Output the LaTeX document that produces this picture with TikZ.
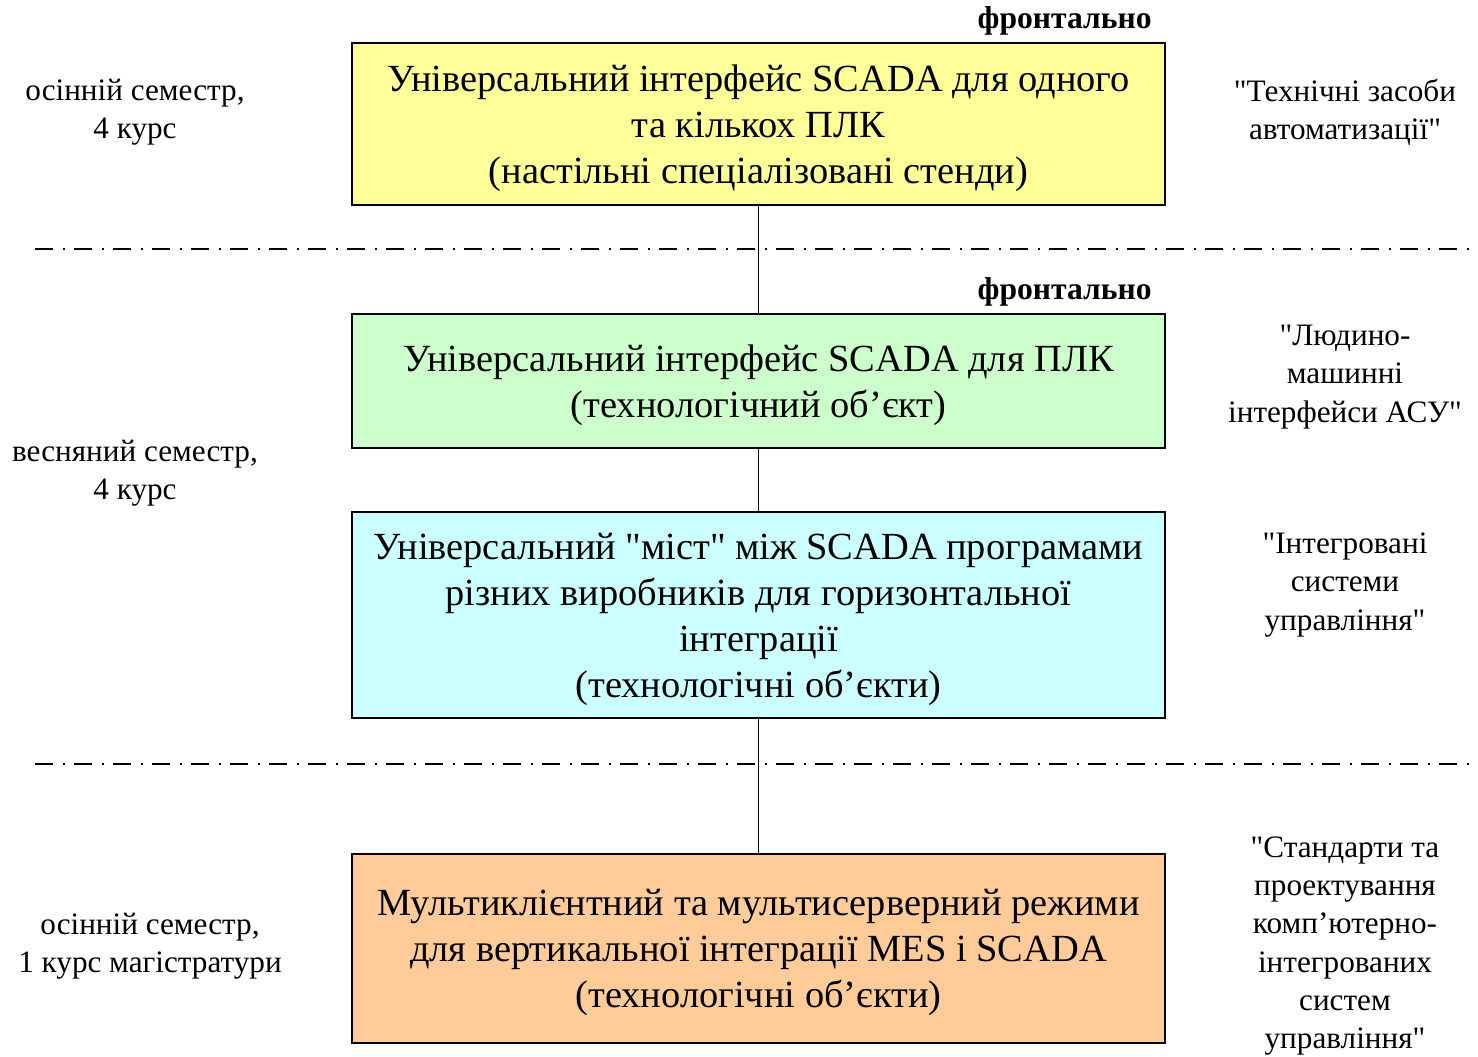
\documentclass[tikz,border=0pt]{standalone}
\usepackage{fontspec}
\setmainfont{Liberation Serif}[Ligatures=TeXOff]
\definecolor{boxyellow}{HTML}{FFFF99}
\definecolor{boxgreen}{HTML}{CCFFCC}
\definecolor{boxcyan}{HTML}{CCFFFF}
\definecolor{boxorange}{HTML}{FFCC99}
\tikzset{
  stagebox/.style={draw=black, line width=1pt, minimum width=406.5pt, inner sep=0pt},
  stagetext/.style={align=center, inner sep=0pt, font=\fontsize{19.2}{23}\selectfont},
  sidelabel/.style={align=center, inner sep=0pt, font=\fontsize{15.6}{19.1}\selectfont},
  modelabel/.style={anchor=east, inner sep=0pt, font=\fontsize{15.8}{17}\selectfont\bfseries},
  link/.style={line width=0.9pt},
  divider/.style={line width=1pt, dash pattern=on 9pt off 5pt on 1pt off 4.5pt}
}
\begin{document}
\begin{tikzpicture}[x=0.5pt, y=-0.5pt]
\useasboundingbox (0,0) rectangle (1478,1056);
\fill[white] (0,0) rectangle (1478,1056);

% stage boxes
\node[stagebox, fill=boxyellow, minimum height=81pt] (b1) at (758.5,124) {};
\node[stagebox, fill=boxgreen, minimum height=67pt] (b2) at (758.5,381) {};
\node[stagebox, fill=boxcyan, minimum height=103pt] (b3) at (758.5,615) {};
\node[stagebox, fill=boxorange, minimum height=94.5pt] (b4) at (758.5,948.5) {};

% stage titles
\node[stagetext] (t1) at ([yshift=-2pt]b1.center)
  {Універсальний інтерфейс SCADA для одного\\та кількох ПЛК\\(настільні спеціалізовані стенди)};
\node[stagetext] (t2) at ([yshift=-2pt]b2.center)
  {Універсальний інтерфейс SCADA для ПЛК\\(технологічний об’єкт)};
\node[stagetext] (t3) at ([yshift=-2pt]b3.center)
  {Універсальний "міст" між SCADA програмами\\різних виробників для горизонтальної\\інтеграції\\(технологічні об’єкти)};
\node[stagetext] (t4) at ([yshift=-2pt]b4.center)
  {Мультиклієнтний та мультисерверний режими\\для вертикальної інтеграції MES і SCADA\\(технологічні об’єкти)};

% links between stages
\draw[link] (b1.south) -- (b2.north);
\draw[link] (b2.south) -- (b3.north);
\draw[link] (b3.south) -- (b4.north);

% semester dividers
\coordinate (d1a) at (35,249);
\coordinate (d1b) at (1478,249);
\coordinate (d2a) at (35,764);
\coordinate (d2b) at (1478,764);
\draw[divider] (d1a) -- (d1b);
\draw[divider] (d2a) -- (d2b);

% delivery mode
\node[modelabel] (m1) at (1152,21) {фронтально};
\node[modelabel] (m2) at (1152,292) {фронтально};

% semesters
\node[sidelabel] (s1) at (135,112) {осінній семестр,\\4 курс};
\node[sidelabel] (s2) at (135,473) {весняний семестр,\\4 курс};
\node[sidelabel] (s3) at (150,946) {осінній семестр,\\1 курс магістратури};

% courses
\node[sidelabel] (c1) at (1345,112) {"Технічні засоби\\автоматизації"};
\node[sidelabel] (c2) at (1345,377) {"Людино-\\машинні\\інтерфейси АСУ"};
\node[sidelabel] (c3) at (1345,585) {"Інтегровані\\системи\\управління"};
\node[sidelabel] (c4) at (1345,946) {"Стандарти та\\проектування\\комп’ютерно-\\інтегрованих\\систем\\управління"};
\end{tikzpicture}
\end{document}
